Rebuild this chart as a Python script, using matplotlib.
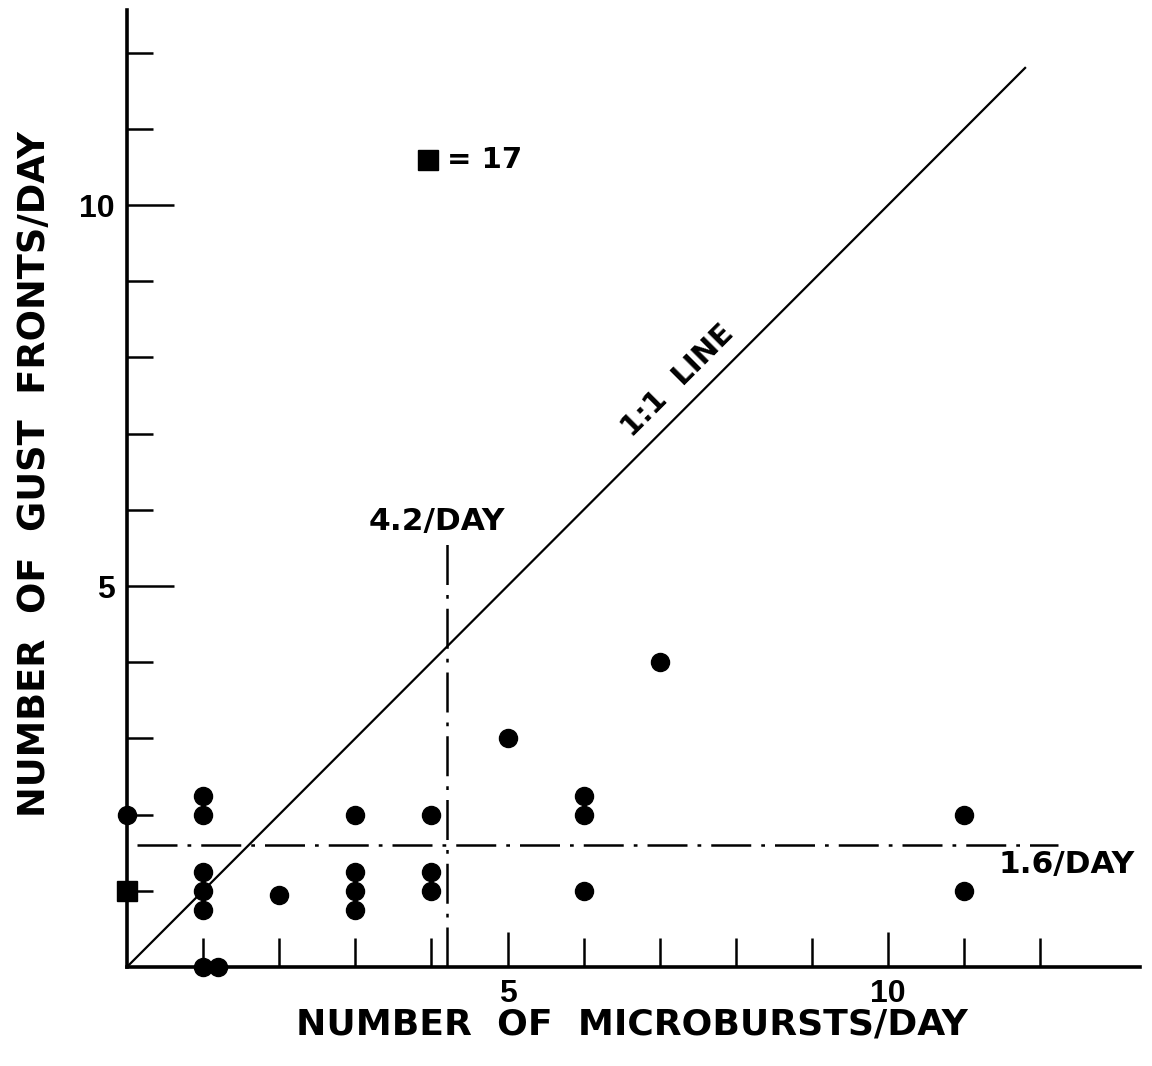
import matplotlib
matplotlib.use("Agg")
import matplotlib.pyplot as plt

# microbursts/day vs gust fronts/day, one entry per observed day
micro_per_day = [1, 1, 1, 1, 1, 1, 1.2, 2, 3, 3, 3, 3, 4, 4, 4, 5, 6, 6, 6, 7, 11, 11, 0]
gust_per_day = [2.25, 2, 1.25, 1, 0.75, 0, 0, 0.95, 2, 1.25, 1, 0.75, 2, 1.25, 1, 3, 2.25, 2, 1, 4, 2, 1, 2]

# square marker stands for 17 coincident days at (0, 1)
square_x = [0]
square_y = [1]
square_count = 17

mean_micro = 4.2
mean_gust = 1.6

x_ticks = list(range(1, 13))
y_ticks = list(range(1, 13))

TICK_FONT = ['Liberation Sans', 'DejaVu Sans']
LABEL_FONT = ['DejaVu Sans']

fig = plt.figure(figsize=(11.52, 10.66), dpi=100)
ax = fig.add_axes([0.1102, 0.0929, 0.8794, 0.8977])
ax.set_xlim(0, 13.31)
ax.set_ylim(0, 12.56)

ax.spines['top'].set_visible(False)
ax.spines['right'].set_visible(False)
for s in ('left', 'bottom'):
    ax.spines[s].set_linewidth(2.6)

ax.set_xticks([5, 10])
ax.set_xticks([t for t in x_ticks if t not in (5, 10)], minor=True)
ax.set_yticks([5, 10])
ax.set_yticks([t for t in y_ticks if t not in (5, 10)], minor=True)
ax.tick_params(axis='x', which='major', direction='in', length=25, width=1.8, pad=9)
ax.tick_params(axis='x', which='minor', direction='in', length=21, width=1.8)
ax.tick_params(axis='y', which='major', direction='in', length=34, width=1.8, pad=9)
ax.tick_params(axis='y', which='minor', direction='in', length=19, width=1.8)
for lbl in ax.get_xticklabels() + ax.get_yticklabels():
    lbl.set_fontfamily(TICK_FONT)
    lbl.set_fontweight('bold')
    lbl.set_fontsize(23)

# 1:1 reference line
ax.plot([0, 11.8], [0, 11.8], color='black', lw=1.6)

# mean rates
ax.plot([0.13, 12.23], [mean_gust, mean_gust], color='black', lw=1.8,
        linestyle=(0, (16, 4, 1.5, 4)))
ax.plot([mean_micro, mean_micro], [0, 5.6], color='black', lw=1.8,
        linestyle=(0, (16, 4, 1.5, 4)))

ax.plot(micro_per_day, gust_per_day, 'o', color='black', ms=13, clip_on=False, zorder=5)
ax.plot(square_x, square_y, 's', color='black', ms=15, clip_on=False, zorder=5)

# key for the square marker
ax.plot([3.95], [10.59], 's', color='black', ms=14)
ax.text(4.2, 10.59, f"= {square_count}", fontsize=21, fontweight='bold',
        family=LABEL_FONT, va='center', ha='left')

ax.text(7.24, 7.7, "1:1  LINE", fontsize=21, fontweight='bold', family=LABEL_FONT,
        rotation=45, ha='center', va='center', rotation_mode='anchor')
ax.text(4.07, 5.85, f"{mean_micro}/DAY", fontsize=22.5, fontweight='bold',
        family=LABEL_FONT, ha='center', va='center')
ax.text(12.34, 1.34, f"{mean_gust}/DAY", fontsize=22.5, fontweight='bold',
        family=LABEL_FONT, ha='center', va='center')

ax.set_xlabel("NUMBER  OF  MICROBURSTS/DAY", fontsize=26, fontweight='bold', family=LABEL_FONT)
ax.set_ylabel("NUMBER  OF  GUST  FRONTS/DAY", fontsize=26.5, fontweight='bold', family=LABEL_FONT)
ax.xaxis.set_label_coords(0.4985, -0.042)
ax.yaxis.set_label_coords(-0.073, 0.515)

fig.savefig("out.png", dpi=100)
